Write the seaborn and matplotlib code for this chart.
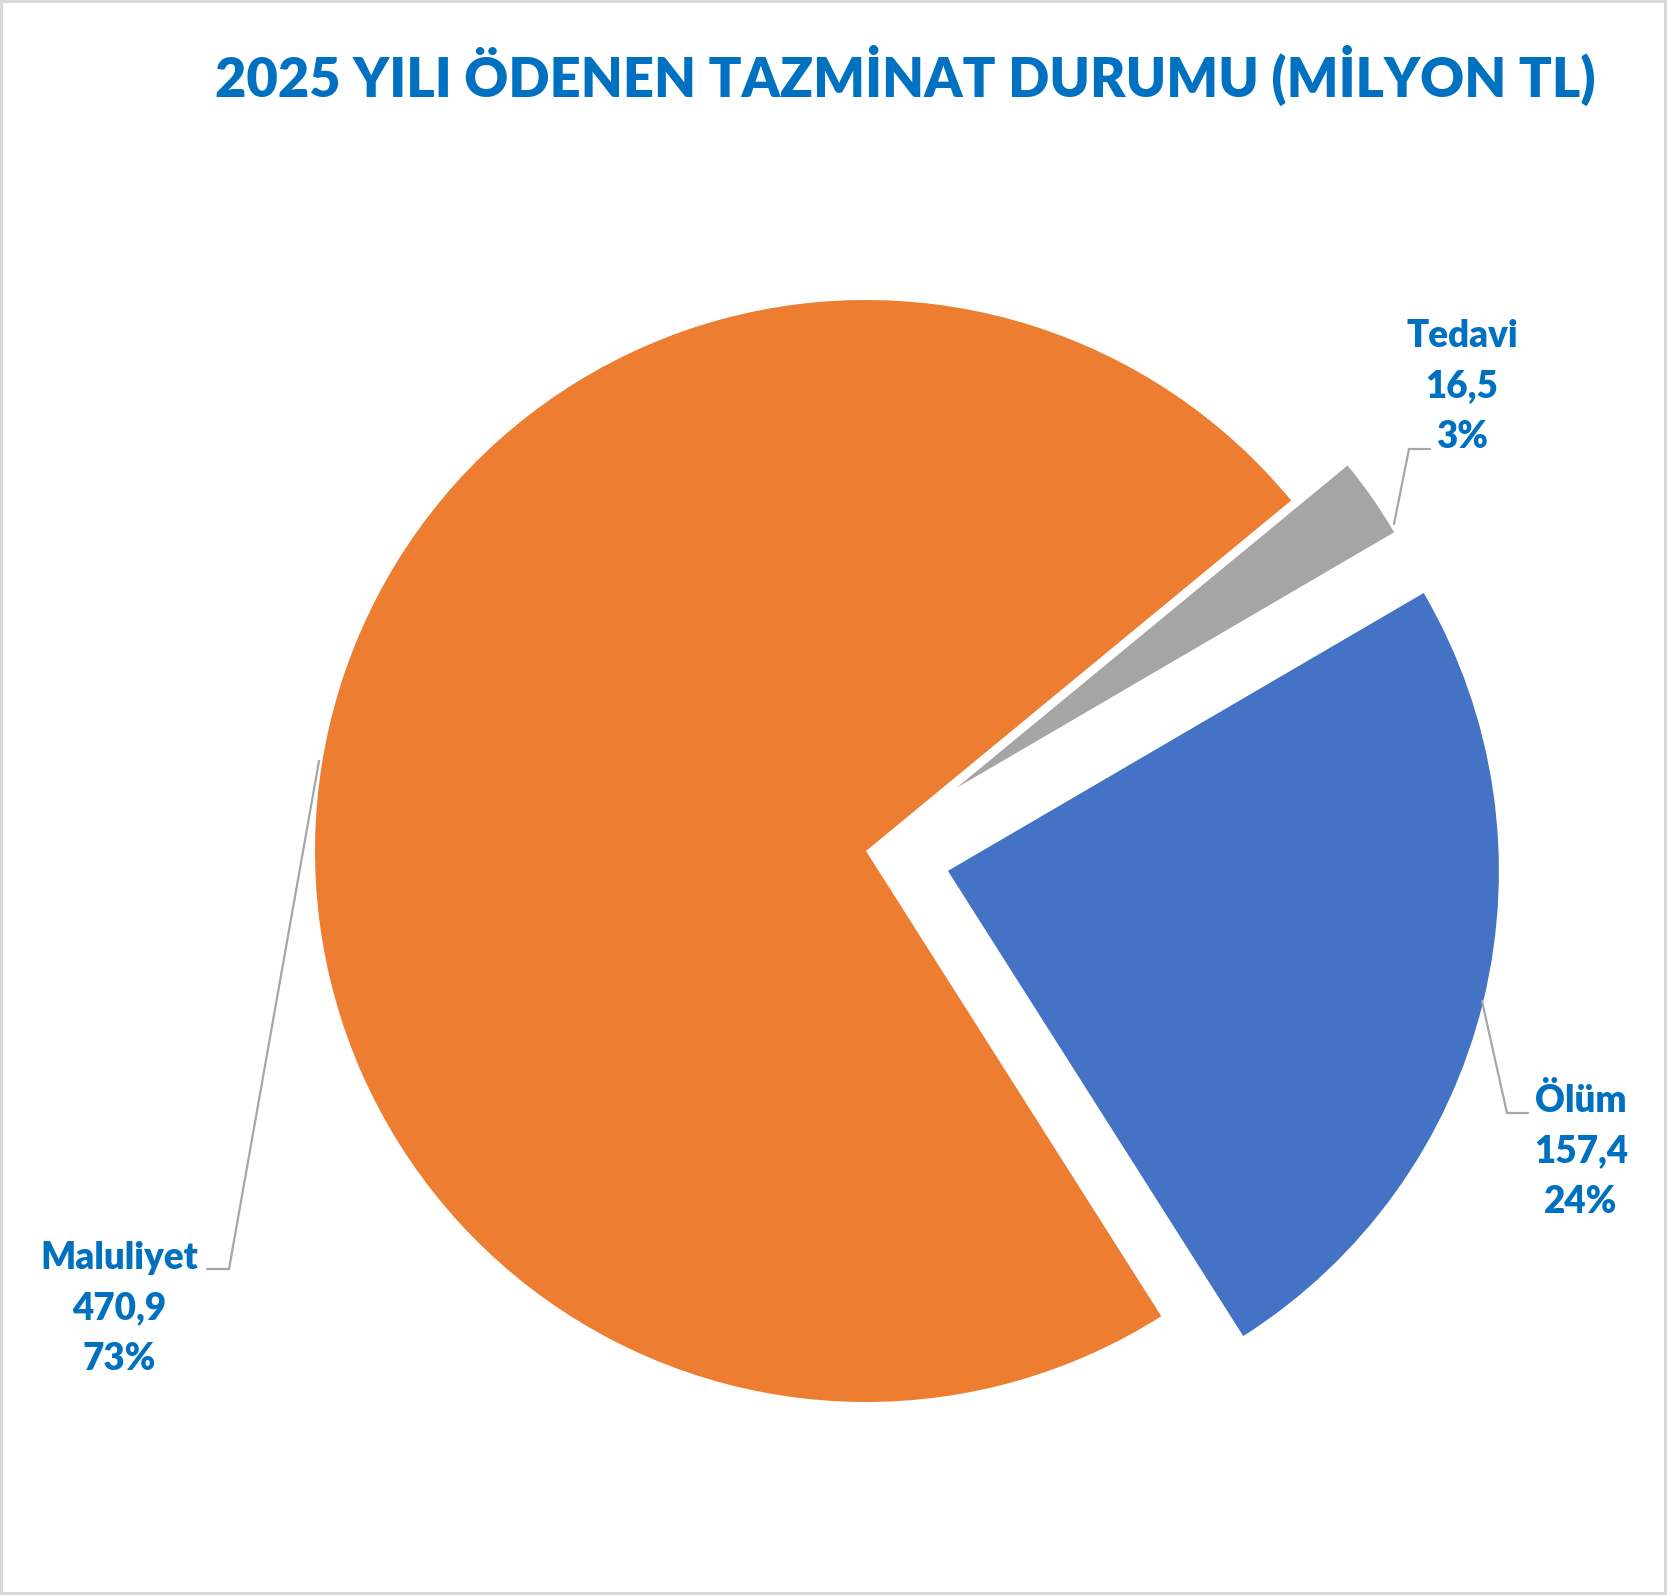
import matplotlib.pyplot as plt
import seaborn as sns
from matplotlib.patches import Rectangle

# chart data
categories = ["Maluliyet", "Ölüm", "Tedavi"]
values = [470.9, 157.4, 16.5]
colors = ["#ED7D31", "#4472C4", "#A5A5A5"]
explode = [0.0, 0.153, 0.2]
title = "2025 YILI ÖDENEN TAZMİNAT DURUMU (MİLYON TL)"

# canvas / pie geometry in pixels
W, H = 1667, 1595
CX, CY, R = 866, 851, 551

# first-line baseline of each label block (pixels), line step
label_pos = {"Maluliyet": (119, 1269), "Ölüm": (1581, 1112), "Tedavi": (1462, 347)}
line_step = 50.5
# leader lines (pixels)
leaders = {
    "Maluliyet": [(319, 761), (229, 1269), (207, 1269)],
    "Ölüm": [(1482, 1001), (1507, 1113), (1528, 1113)],
    "Tedavi": [(1394, 524), (1409, 449), (1430, 449)],
}

TEXT_COLOR = "#0070C0"
LINE_COLOR = "#A6A6A6"


def px(x, y):
    return (x - CX) / R, (CY - y) / R


sns.set_theme(style="white")
plt.rcParams["font.family"] = ["Lato", "DejaVu Sans"]

fig = plt.figure(figsize=(W / 100, H / 100), dpi=100)
ax = fig.add_axes([0, 0, 1, 1])

wedges, _ = ax.pie(
    values,
    colors=colors,
    explode=explode,
    startangle=39.5,
    counterclock=True,
    radius=1,
    wedgeprops=dict(linewidth=0),
)
wedges[2].set_radius(0.92)

ax.set_xlim(px(0, 0)[0], px(W, 0)[0])
ax.set_ylim(px(0, H)[1], px(0, 0)[1])
ax.axis("off")

total = sum(values)
for name, val in zip(categories, values):
    lines = [name, f"{val:.1f}".replace(".", ","), f"{round(val / total * 100):.0f}%"]
    x0, y0 = label_pos[name]
    for i, txt in enumerate(lines):
        tx, ty = px(x0, y0 + i * line_step)
        ax.text(tx, ty, txt, ha="center", va="baseline", fontsize=26.5,
                fontweight="heavy", color=TEXT_COLOR)
    pts = [px(x, y) for x, y in leaders[name]]
    ax.plot([p[0] for p in pts], [p[1] for p in pts], color=LINE_COLOR, lw=1.6,
            solid_joinstyle="miter")

tx, ty = px(905, 97)
ax.text(tx, ty, title, ha="center", va="baseline", fontsize=39,
        fontweight="heavy", color=TEXT_COLOR)

fig.patches.append(Rectangle((0, 0), 1, 1, transform=fig.transFigure, fill=False,
                             edgecolor="#D9D9D9", linewidth=4.3))

fig.savefig("out.png", dpi=100, facecolor="white")
